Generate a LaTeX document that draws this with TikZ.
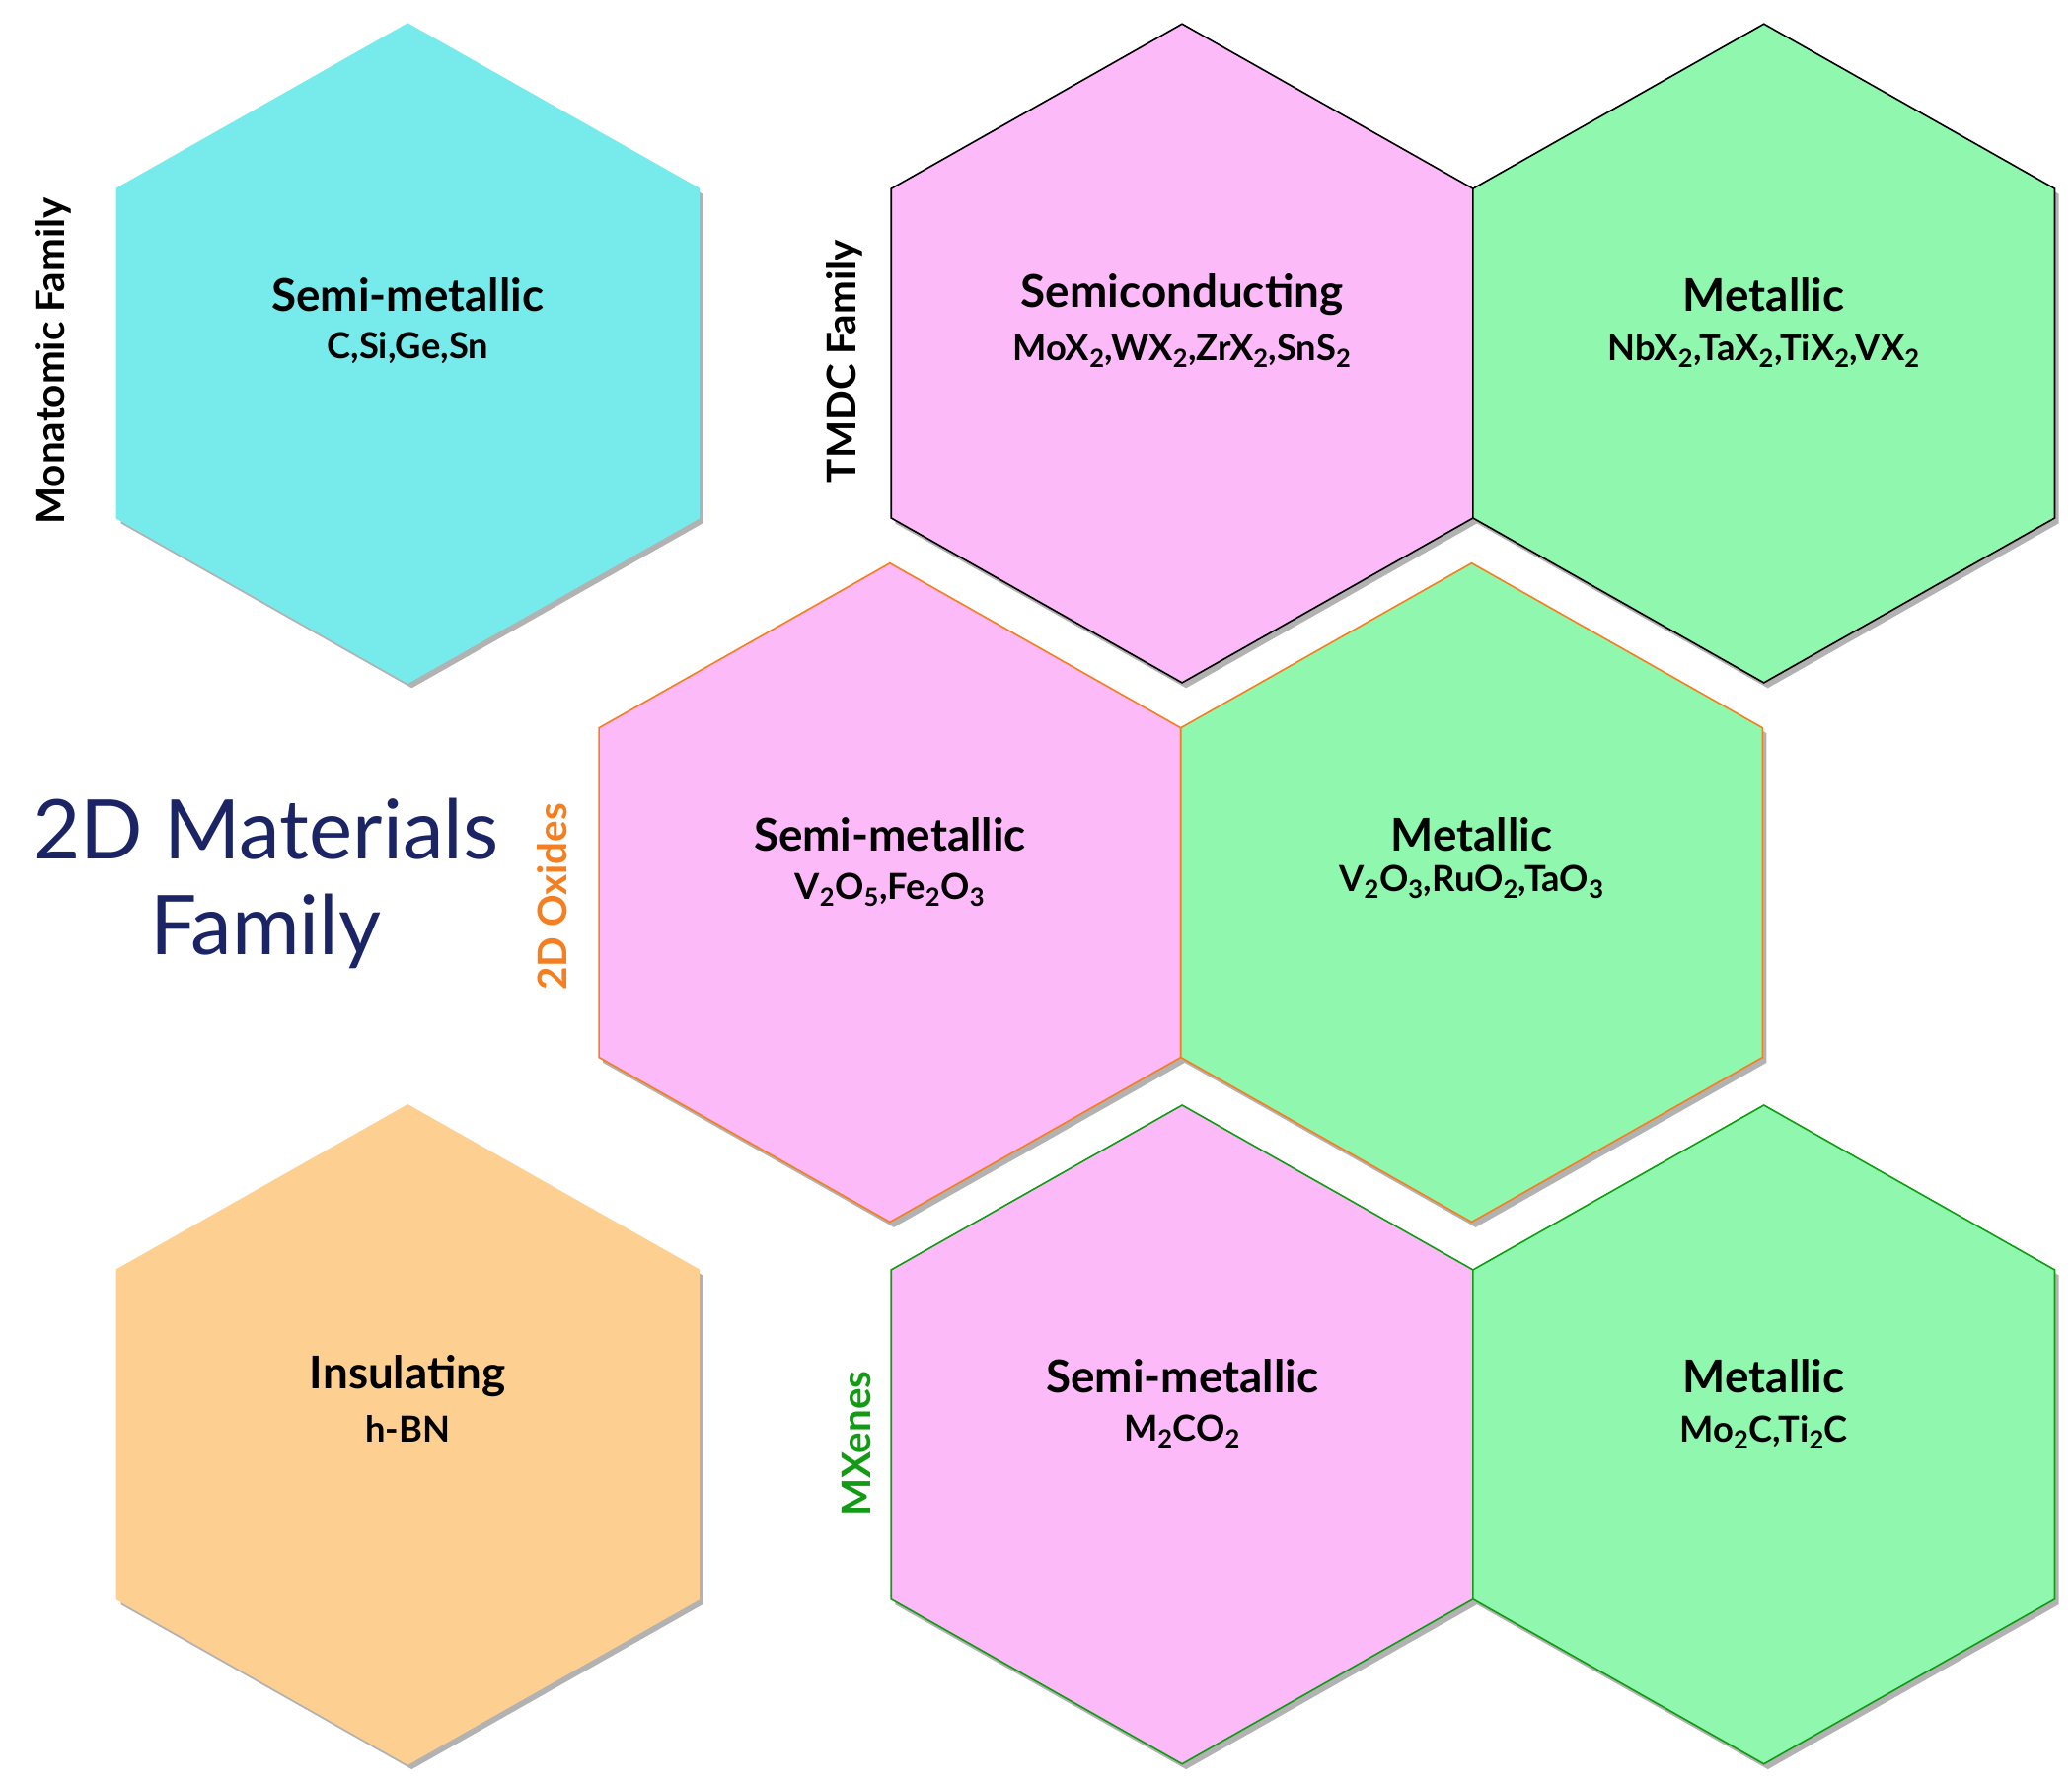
\documentclass[tikz,border=0pt]{standalone}
\usepackage{fontspec}
\setmainfont{Lato}
\definecolor{cyanh}{HTML}{77EBEC}
\definecolor{pinkh}{HTML}{FDBAF8}
\definecolor{greenh}{HTML}{90F8AE}
\definecolor{orangeh}{HTML}{FDD092}
\definecolor{navy}{HTML}{1B2566}
\definecolor{oxo}{HTML}{F57F20}
\definecolor{mxg}{HTML}{139B16}
\newcommand\hexpath[1]{+(0,-248) -- +(219,-124) -- +(219,124) -- +(0,248) -- +(-219,124) -- +(-219,-124) -- cycle}
\newcommand\sbs[1]{\textsubscript{#1}}
\newcommand\hexa[4]{%
 \fill[black!60,opacity=0.5] ($(#1)+(3,4)$) \hexpath{};
 \draw[fill=#2,draw=#3,line width=1.2] (#1) \hexpath{};
 \node[title] at ($(#1)+(0,-44)$) {#4};}
\usetikzlibrary{calc}
\tikzset{title/.style={font=\fontsize{34}{40}\selectfont\bfseries,align=center},
 sub/.style={font=\fontsize{27}{30}\selectfont\bfseries},
 fam/.style={font=\fontsize{30}{34}\selectfont\bfseries,rotate=90}}
\begin{document}
\begin{tikzpicture}[x=1pt,y=-1pt]
\useasboundingbox (0,0) rectangle (1560,1341);
\coordinate (m) at (307,266);
\coordinate (t1) at (890,266);
\coordinate (t2) at (1328,266);
\coordinate (o1) at (670,672);
\coordinate (o2) at (1108,672);
\coordinate (b) at (307,1080);
\coordinate (x1) at (890,1080);
\coordinate (x2) at (1328,1080);
\hexa{m}{cyanh}{cyanh}{Semi-metallic}
\hexa{t1}{pinkh}{black}{Semiconducting}
\hexa{t2}{greenh}{black}{Metallic}
\hexa{o1}{pinkh}{oxo}{Semi-metallic}
\hexa{o2}{greenh}{oxo}{Metallic}
\hexa{b}{orangeh}{orangeh}{Insulating}
\hexa{x1}{pinkh}{mxg}{Semi-metallic}
\hexa{x2}{greenh}{mxg}{Metallic}
\node[sub] (sm) at ($(m)+(0,-4)$) {C,Si,Ge,Sn};
\node[sub] (st1) at ($(t1)+(0,-2)$) {MoX\sbs2,WX\sbs2,ZrX\sbs2,SnS\sbs2};
\node[sub] (st2) at ($(t2)+(0,-2)$) {NbX\sbs2,TaX\sbs2,TiX\sbs2,VX\sbs2};
\node[sub] (so1) at ($(o1)+(0,-2)$) {V\sbs2O\sbs5,Fe\sbs2O\sbs3};
\node[sub] (so2) at ($(o2)+(0,-8)$) {V\sbs2O\sbs3,RuO\sbs2,TaO\sbs3};
\node[sub] (sb) at ($(b)+(0,-4)$) {h-BN};
\node[sub] (sx1) at ($(x1)+(0,-2)$) {M\sbs2CO\sbs2};
\node[sub] (sx2) at ($(x2)+(0,-2)$) {Mo\sbs2C,Ti\sbs2C};
\node[fam] (fm) at (40,272) {Monatomic Family};
\node[fam] (ft) at (636,272) {TMDC Family};
\node[fam,text=oxo] (fo) at (416,675) {2D Oxides};
\node[fam,text=mxg] (fx) at (645,1087) {MXenes};
\node[font=\fontsize{62}{72}\selectfont,text=navy,align=center] (tt) at (200,665) {2D Materials\\Family};
\end{tikzpicture}
\end{document}
